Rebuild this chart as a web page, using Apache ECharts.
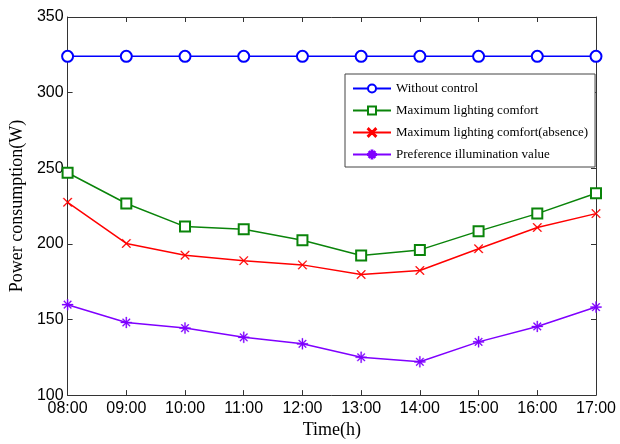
<!DOCTYPE html>
<html>
<head>
<meta charset="utf-8">
<script src="https://cdn.jsdelivr.net/npm/echarts@6/dist/echarts.min.js"></script>
<style>
  html, body { margin: 0; padding: 0; background: #fff; }
  #chart { width: 620px; height: 444px; }
</style>
</head>
<body>
<div id="chart"></div>
<script>
// categories and series values
const hours = ['08:00', '09:00', '10:00', '11:00', '12:00', '13:00', '14:00', '15:00', '16:00', '17:00']
const withoutControl = [324, 324, 324, 324, 324, 324, 324, 324, 324, 324]
const maxComfort = [247, 226.7, 211.4, 209.7, 202.4, 192.3, 196, 208.4, 220, 233.5]
const maxComfortAbsence = [227.5, 200.3, 192.5, 188.9, 186.1, 179.7, 182.4, 196.8, 210.8, 220]
const preferenceValue = [159.8, 148, 144.3, 138.2, 133.9, 125, 122, 135.2, 145.4, 158.2]

// marker shapes (matlab-like x and asterisk), thin arms
const xMark = 'path://M0,0.8 L0.8,0 L5,4.2 L9.2,0 L10,0.8 L5.8,5 L10,9.2 L9.2,10 L5,5.8 L0.8,10 L0,9.2 L4.2,5 Z'
const starMark = 'path://M1.3,2 L2,1.3 L5,4.3 L8,1.3 L8.7,2 L5.7,5 L8.7,8 L8,8.7 L5,5.7 L2,8.7 L1.3,8 L4.3,5 Z M4.5,0 L5.5,0 L5.5,10 L4.5,10 Z M0,4.5 L10,4.5 L10,5.5 L0,5.5 Z'

const serif = '"Liberation Serif", "Times New Roman", serif'
const sans = '"Liberation Sans", Arial, sans-serif'

function makeSeries(name, values, color, symbol, size, border) {
  return {
    name: name,
    type: 'line',
    data: values,
    symbol: symbol,
    symbolSize: size,
    showAllSymbol: true,
    lineStyle: { color: color, width: 1.5 },
    itemStyle: { color: color, borderColor: color, borderWidth: border },
    emphasis: { disabled: true },
    animation: false
  }
}

const chart = echarts.init(document.getElementById('chart'))
chart.setOption({
  backgroundColor: '#fff',
  grid: { left: 66, right: 24, top: 17, bottom: 43 },
  legend: {
    orient: 'vertical',
    left: 345,
    top: 74,
    width: 252,
    padding: [7, 7, 5, 7],
    itemGap: 7,
    itemWidth: 38,
    itemHeight: 10,
    backgroundColor: '#fff',
    borderColor: '#444',
    borderWidth: 1,
    textStyle: { fontFamily: serif, fontSize: 13, color: '#000', lineHeight: 15 },
    data: ['Without control', 'Maximum lighting comfort', 'Maximum lighting comfort(absence)', 'Preference illumination value']
  },
  xAxis: [{
    type: 'category',
    data: hours,
    boundaryGap: false,
    name: 'Time(h)',
    nameLocation: 'middle',
    nameGap: 24,
    nameTextStyle: { fontFamily: serif, fontSize: 18, color: '#000' },
    axisLine: { lineStyle: { color: '#333', width: 1 } },
    axisTick: { inside: true, length: 5, lineStyle: { color: '#333' } },
    axisLabel: { fontFamily: sans, fontSize: 16, color: '#000', margin: 5 },
    splitLine: { show: false }
  }, {
    type: 'category',
    data: hours,
    position: 'top',
    boundaryGap: false,
    axisLine: { lineStyle: { color: '#333', width: 1 } },
    axisTick: { inside: true, length: 5, lineStyle: { color: '#333' } },
    axisLabel: { show: false },
    splitLine: { show: false }
  }],
  yAxis: [{
    type: 'value',
    min: 100,
    max: 350,
    interval: 50,
    name: 'Power consumption(W)',
    nameLocation: 'middle',
    nameGap: 40,
    nameTextStyle: { fontFamily: serif, fontSize: 18, color: '#000' },
    axisLine: { show: true, lineStyle: { color: '#333', width: 1 } },
    axisTick: { show: true, inside: true, length: 5, lineStyle: { color: '#333' } },
    axisLabel: { fontFamily: sans, fontSize: 16, color: '#000', margin: 4 },
    splitLine: { show: false }
  }, {
    type: 'value',
    min: 100,
    max: 350,
    interval: 50,
    position: 'right',
    axisLine: { show: true, lineStyle: { color: '#333', width: 1 } },
    axisTick: { show: true, inside: true, length: 5, lineStyle: { color: '#333' } },
    axisLabel: { show: false },
    splitLine: { show: false }
  }],
  series: [
    makeSeries('Without control', withoutControl, '#0000ff', 'emptyCircle', 11, 1.5),
    makeSeries('Maximum lighting comfort', maxComfort, '#0a840a', 'emptyRect', 10, 1.5),
    makeSeries('Maximum lighting comfort(absence)', maxComfortAbsence, '#ff0000', xMark, 9, 0.3),
    makeSeries('Preference illumination value', preferenceValue, '#7f00ff', starMark, 11, 0.3)
  ]
})
</script>
</body>
</html>
